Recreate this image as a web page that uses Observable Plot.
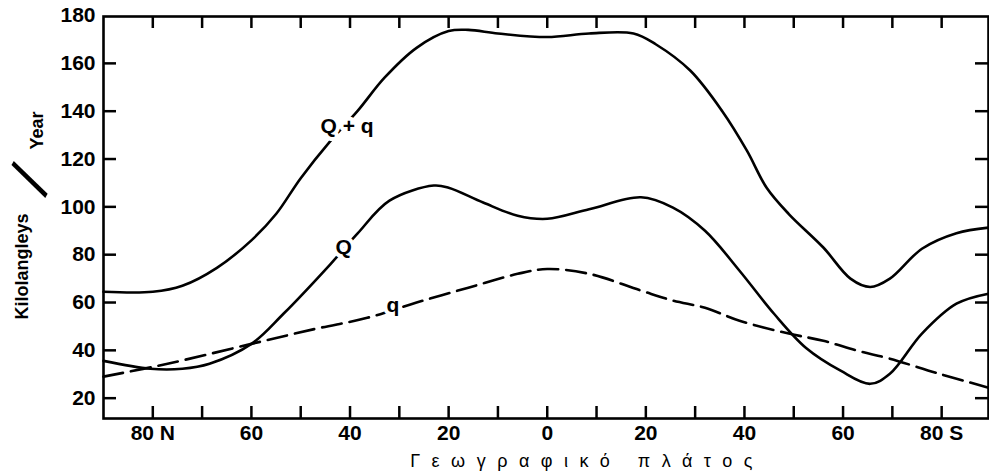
<!DOCTYPE html>
<html><head><meta charset="utf-8">
<script src="https://cdn.jsdelivr.net/npm/d3@7"></script>
<script src="https://cdn.jsdelivr.net/npm/@observablehq/plot@0.6"></script>
<style>body{margin:0;background:#fff}</style>
</head><body><div id="chart"></div>
<script>
// latitude: negative = North, positive = South
const latQq = [-90,-80,-74,-67,-60,-55,-50,-44,-38.5,-33,-26.5,-20,-16,-10,0,8.5,17.5,22,29,35.5,40.5,44.5,49,56,61.5,65.5,69.5,76,83,89.5];
const valQq = [64.5,64.5,67,74.5,86,97,112,127.5,140,154,166.5,173.5,174,172.5,171,172.5,172.5,168,157,140,123.5,108,97,83,70,66.5,70,82.5,89,91.3];

const latQ = [-90,-80.5,-74,-68.5,-60,-53.5,-44,-38.5,-32,-23,-20,-13,-6,0,8.5,19,25.5,32,39,46,52.5,59.5,65.5,69.5,76,83,89.5];
const valQ = [35.6,32.3,32.3,34.4,42.7,55.3,76,88.8,102.6,108.9,108,101.8,96.3,95,99,104,99.7,90,73.3,55.3,41,31.5,26,30.2,47,59.5,63.7];

const latq = [-90,-77,-60,-47,-36.5,-26.5,-16,-6,0,8.5,19,25.5,32,39,49,56,63,69.5,79.5,89.5];
const valq = [29,34.4,42.7,49,53.6,60,66.2,72,74,72,65,60.8,57.8,52.4,47,44,39.8,36.5,30.2,24.4];

const seriesNames = ["Q + q", "Q", "q"];
const labelLat = [-40.6, -41.3, -31.3];
const labelVal = [133.6, 83, 58.7];

const xTicksMinor = [-80,-70,-60,-50,-40,-30,-20,-10,0,10,20,30,40,50,60,70,80];
const xTicksMajor = [-80,-60,-40,-20,0,20,40,60,80];
const xTickLabels = ["80 N","60","40","20","0","20","40","60","80 S"];
const yTicks = [20,40,60,80,100,120,140,160,180];
const yTitle = ["Kilolangleys", "/", "Year"];
const xTitle = "Γεωγραφικό πλάτος";

const toRows = (lats, vals) => lats.map((lat, i) => ({lat, v: vals[i]}));
const dQq = toRows(latQq, valQq);
const dQ = toRows(latQ, valQ);
const dq = toRows(latq, valq);
const labels = seriesNames.map((t, i) => ({t, lat: labelLat[i], v: labelVal[i]}));

const font = "Liberation Sans, Arial, Helvetica, sans-serif";
const innerTicks = yTicks.filter(v => v < 180);
const W = 989, H = 476, mL = 103, mR = 1, mT = 16, mB = 58;
const frameW = W - mL - mR, frameH = H - mT - mB;
const tickLen = 12;

const chart = Plot.plot({
  width: W,
  height: H,
  marginLeft: mL,
  marginRight: mR,
  marginTop: mT,
  marginBottom: mB,
  style: {fontFamily: font, fontSize: "21px", fontWeight: "bold", color: "black", background: "white", overflow: "visible"},
  x: {domain: [-90, 89.5]},
  y: {domain: [11.5, 179.6]},
  marks: [
    Plot.axisX(xTicksMajor, {anchor: "bottom", tickSize: 0, tickPadding: 7, tickFormat: d => xTickLabels[xTicksMajor.indexOf(d)], label: null}),
    Plot.axisY(yTicks, {anchor: "left", tickSize: 0, tickPadding: 8, label: null}),
    Plot.tickX(xTicksMinor, {x: d => d, insetTop: frameH - tickLen, strokeWidth: 2.5}),
    Plot.tickX(xTicksMinor, {x: d => d, insetBottom: frameH - tickLen, strokeWidth: 2.5}),
    Plot.tickY(innerTicks, {y: d => d, insetRight: frameW - tickLen - 1, strokeWidth: 2.5}),
    Plot.tickY(innerTicks, {y: d => d, insetLeft: frameW - tickLen - 1, strokeWidth: 2.5}),
    Plot.frame({strokeWidth: 2.6}),
    Plot.line(dQq, {x: "lat", y: "v", curve: "catmull-rom", strokeWidth: 2.6, stroke: "black"}),
    Plot.line(dQ, {x: "lat", y: "v", curve: "catmull-rom", strokeWidth: 2.6, stroke: "black"}),
    Plot.line(dq, {x: "lat", y: "v", curve: "catmull-rom", strokeWidth: 2.6, stroke: "black", strokeDasharray: "20,8"}),
    Plot.text(labels, {x: "lat", y: "v", text: "t", fontSize: 21, fontWeight: "bold", fill: "black", stroke: "white", strokeWidth: 8}),
    Plot.text([yTitle[0]], {frameAnchor: "left", textAnchor: "middle", lineAnchor: "middle", text: d => d, rotate: -90, dx: -81, dy: 49, fontSize: 18, fontWeight: "bold"}),
    Plot.text([yTitle[1]], {frameAnchor: "left", textAnchor: "middle", lineAnchor: "middle", text: d => d, rotate: -61, dx: -72, dy: -37, fontSize: 62, fontWeight: "normal"}),
    Plot.text([yTitle[2]], {frameAnchor: "left", textAnchor: "middle", lineAnchor: "middle", text: d => d, rotate: -90, dx: -66, dy: -87, fontSize: 18, fontWeight: "bold"}),
    Plot.text([xTitle], {frameAnchor: "bottom", textAnchor: "middle", lineAnchor: "middle", text: d => d, dx: 41, dy: 43, fontSize: 18, fontWeight: "normal"})
  ]
});
d3.select(chart).selectAll("text").filter(function() { return this.textContent === xTitle; }).style("letter-spacing", "11.5px");
document.getElementById("chart").appendChild(chart);
</script>
</body></html>
